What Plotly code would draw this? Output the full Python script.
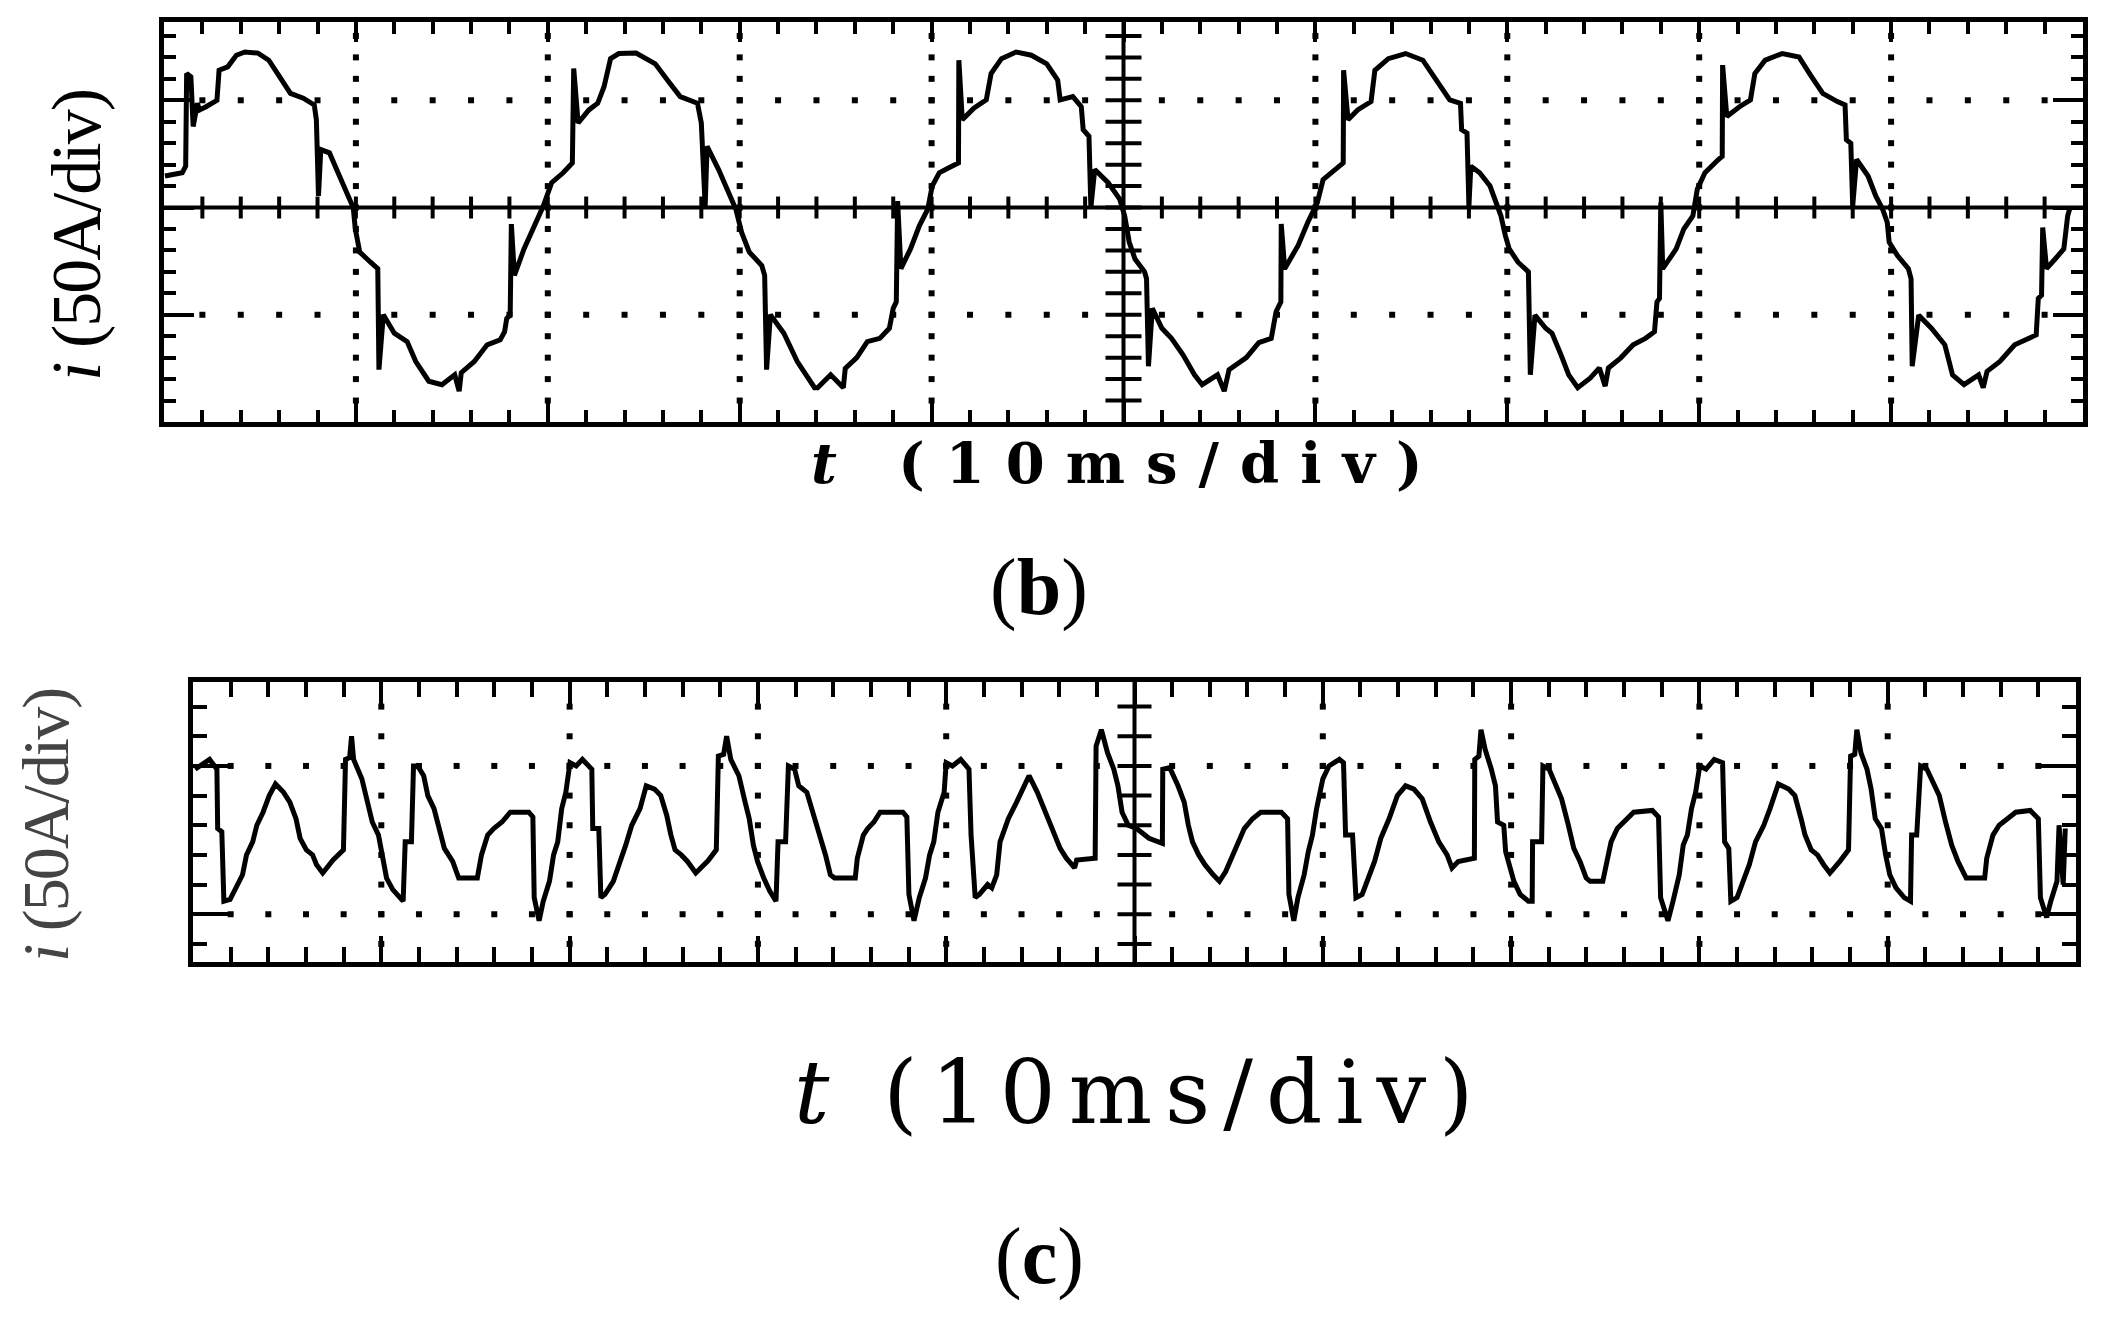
import numpy as np
import plotly.graph_objects as go

W, H = 2105, 1317
OFF = 8  # the page body margin moves the figure by 8 px

# Panel (b): inverter output current, t in ms (10 ms/div), i in A (50 A/div)
B_T = [
    0.05, 0.95, 1.13, 1.18, 1.40, 1.52, 1.74, 1.85, 2.19, 2.76,
    2.87, 3.32, 3.77, 4.22, 4.90, 5.46, 5.91, 6.59, 7.26, 7.83,
    7.94, 8.05, 8.17, 8.62, 9.07, 9.52, 9.86, 9.97, 10.20, 10.76,
    11.14, 11.20, 11.43, 12.00, 12.67, 13.12, 13.80, 14.48, 15.15, 15.38,
    15.49, 16.17, 16.84, 17.52, 17.75, 17.86, 18.04, 18.10, 18.26, 18.76,
    19.32, 19.77, 20.20, 20.80, 21.28, 21.35, 21.58, 22.14, 22.60, 22.93,
    23.27, 23.70, 24.60, 25.60, 26.30, 26.90, 27.80, 28.00, 28.20, 28.30,
    28.90, 29.35, 29.80, 30.10, 30.50, 31.15, 31.30, 31.40, 31.60, 32.30,
    33.00, 33.90, 34.06, 34.74, 35.40, 35.50, 36.10, 36.65, 37.30, 37.80,
    38.00, 38.16, 38.23, 38.40, 38.90, 39.36, 39.80, 40.03, 40.40, 40.90,
    41.40, 41.42, 41.60, 42.20, 42.85, 43.10, 43.64, 44.40, 45.20, 46.00,
    46.57, 46.70, 47.36, 47.80, 47.90, 48.20, 48.30, 48.50, 49.20, 49.80,
    50.06, 50.30, 50.60, 51.10, 51.20, 51.30, 51.50, 52.00, 52.50, 53.10,
    53.70, 54.10, 54.90, 55.25, 55.50, 56.40, 57.05, 57.70, 57.95, 58.20,
    58.22, 58.40, 59.10, 59.60, 60.10, 60.40, 61.00, 61.45, 61.47, 61.70,
    62.20, 62.90, 63.10, 63.80, 64.70, 65.60, 66.30, 67.00, 67.56, 67.62,
    67.90, 68.00, 68.10, 68.56, 69.10, 69.44, 69.67, 69.90, 70.10, 70.56,
    71.10, 71.20, 71.44, 72.00, 72.33, 72.80, 73.20, 73.67, 74.33, 74.80,
    75.10, 75.27, 75.90, 76.56, 77.20, 77.67, 77.80, 77.93, 78.00, 78.10,
    78.80, 79.20, 79.67, 79.90, 80.30, 81.00, 81.20, 81.22, 81.44, 82.10,
    82.67, 82.90, 83.44, 84.33, 85.20, 85.80, 86.44, 87.20, 87.60, 87.67,
    87.90, 88.00, 88.20, 88.80, 89.20, 89.56, 89.80, 89.90, 90.33, 90.90,
    91.04, 91.10, 91.44, 92.10, 92.80, 93.20, 93.80, 94.56, 94.80, 95.00,
    95.67, 96.44, 97.00, 97.56, 97.67, 97.84, 97.90, 98.10, 98.56, 99.00,
    99.20, 99.30,
]
B_I = [
    14.7, 16.2, 19.3, 62.5, 61.0, 37.8, 48.6, 45.5, 47.0, 50.0,
    64.0, 65.6, 71.0, 72.5, 72.0, 68.7, 62.5, 53.2, 51.0, 47.8,
    40.9, 5.4, 27.0, 25.5, 16.2, 7.7, 0.0, -10.0, -20.8, -25.5,
    -28.5, -75.6, -50.0, -58.6, -62.5, -71.8, -81.0, -82.6, -78.0, -85.6,
    -77.0, -71.8, -64.0, -61.7, -57.9, -51.7, -50.2, -7.7, -31.6, -19.3,
    -8.5, 0.8, 11.6, 16.2, 20.8, 64.8, 39.4, 45.5, 48.6, 56.3,
    69.4, 71.8, 72.0, 67.0, 58.6, 51.7, 48.6, 39.4, 0.8, 28.5,
    17.7, 8.5, -0.8, -11.6, -20.8, -27.0, -31.6, -75.6, -50.0, -58.6,
    -71.8, -84.0, -84.0, -78.0, -84.0, -75.0, -70.0, -62.5, -61.0, -56.3,
    -47.0, -44.0, 3.0, -28.5, -19.3, -8.5, -0.8, 10.0, 16.2, 18.5,
    20.8, 68.7, 40.9, 46.3, 50.2, 62.5, 69.4, 72.5, 71.0, 67.0,
    59.4, 50.2, 51.7, 47.0, 36.3, 33.2, 0.0, 17.7, 11.6, 3.9,
    -3.9, -16.2, -24.0, -30.0, -33.2, -74.0, -47.0, -56.3, -61.0, -68.7,
    -78.0, -82.6, -78.0, -85.6, -75.6, -70.0, -63.0, -61.0, -48.6, -44.0,
    -7.7, -28.5, -17.7, -7.0, 2.3, 13.0, 17.7, 20.8, 64.0, 40.9,
    45.5, 49.4, 64.0, 69.4, 71.8, 68.7, 59.4, 50.2, 48.6, 36.3,
    34.7, 0.8, 19.3, 16.2, 10.0, 0.8, -3.9, -13.1, -19.3, -25.5,
    -30.0, -78.0, -50.2, -56.3, -58.6, -68.7, -78.0, -84.0, -79.5, -74.8,
    -83.3, -74.8, -70.2, -64.0, -61.0, -57.9, -44.0, -42.4, 2.3, -28.5,
    -19.3, -10.0, -3.9, 8.5, 16.2, 22.4, 23.9, 66.4, 42.4, 47.0,
    50.2, 62.5, 68.7, 71.8, 70.2, 61.7, 53.2, 49.4, 47.8, 31.6,
    30.0, 0.8, 22.4, 14.7, 5.4, -0.8, -7.0, -16.2, -22.4, -28.5,
    -33.2, -74.0, -50.2, -56.3, -64.0, -78.0, -82.6, -78.0, -84.0, -76.4,
    -71.8, -64.0, -61.7, -59.4, -42.4, -40.9, -9.3, -28.5, -23.9, -19.3,
    -3.9, -0.8,
]

# Panel (c): distorted current, same scales
C_T = [
    0.11, 0.88, 1.27, 1.31, 1.53, 1.64, 1.97, 2.30, 2.63, 2.84,
    3.17, 3.39, 3.72, 4.05, 4.38, 4.81, 5.14, 5.47, 5.69, 6.02,
    6.35, 6.56, 6.89, 7.44, 7.99, 8.10, 8.32, 8.42, 8.53, 8.97,
    9.30, 9.52, 9.85, 10.07, 10.28, 10.61, 11.16, 11.27, 11.60, 11.71,
    11.93, 12.25, 12.47, 12.80, 13.02, 13.35, 13.79, 14.11, 15.10, 15.32,
    15.65, 15.97, 16.41, 16.85, 17.83, 18.05, 18.12, 18.38, 18.60, 18.93,
    19.15, 19.37, 19.58, 19.80, 20.02, 20.35, 20.68, 21.18, 21.23, 21.55,
    21.66, 21.88, 22.32, 22.65, 22.98, 23.30, 23.74, 24.07, 24.51, 24.84,
    25.16, 25.38, 25.60, 25.93, 26.26, 26.70, 27.35, 27.79, 27.90, 28.18,
    28.34, 28.56, 28.99, 29.32, 29.54, 29.76, 29.98, 30.31, 30.63, 30.96,
    31.07, 31.47, 31.62, 31.95, 32.17, 32.60, 32.93, 33.26, 33.59, 33.85,
    34.07, 35.17, 35.28, 35.60, 35.83, 36.16, 36.49, 37.70, 37.91, 38.02,
    38.29, 38.57, 38.90, 39.12, 39.34, 39.56, 39.89, 40.00, 40.33, 40.77,
    41.21, 41.32, 41.54, 41.76, 42.20, 42.42, 42.68, 42.86, 43.30, 43.74,
    44.07, 44.40, 44.84, 45.28, 45.72, 46.05, 46.38, 46.82, 46.93, 47.91,
    47.96, 48.24, 48.57, 48.90, 49.12, 49.34, 49.67, 50.11, 50.77, 51.48,
    51.50, 51.87, 52.31, 52.64, 52.86, 53.08, 53.41, 53.74, 54.18, 54.51,
    54.84, 55.17, 55.50, 55.83, 56.27, 56.70, 57.80, 58.13, 58.20, 58.46,
    58.68, 59.01, 59.23, 59.45, 59.67, 60.00, 60.33, 60.88, 61.10, 61.21,
    61.58, 61.76, 62.09, 62.42, 62.75, 63.08, 63.52, 63.96, 64.40, 64.84,
    65.28, 65.72, 66.16, 66.60, 66.86, 67.19, 67.85, 68.05, 68.07, 68.29,
    68.40, 68.62, 68.95, 69.17, 69.28, 69.61, 69.71, 69.93, 70.15, 70.48,
    70.92, 71.12, 71.14, 71.62, 71.69, 72.02, 72.35, 72.68, 73.00, 73.33,
    73.66, 73.99, 74.20, 74.87, 75.09, 75.31, 75.64, 76.07, 76.51, 77.50,
    77.83, 77.94, 78.33, 78.60, 78.93, 79.14, 79.36, 79.58, 79.80, 80.02,
    80.35, 80.79, 81.23, 81.34, 81.56, 81.67, 82.00, 82.32, 82.65, 82.98,
    83.42, 83.75, 84.19, 84.74, 85.07, 85.40, 85.61, 85.94, 86.27, 86.60,
    86.93, 87.48, 87.92, 88.03, 88.25, 88.36, 88.58, 88.90, 89.12, 89.34,
    89.67, 89.89, 90.11, 90.44, 90.88, 91.21, 91.27, 91.54, 91.75, 92.08,
    92.41, 92.74, 93.07, 93.40, 93.73, 94.17, 95.15, 95.26, 95.59, 95.92,
    96.36, 96.80, 97.57, 98.00, 98.11, 98.44, 98.66, 98.99, 99.10, 99.32,
    99.43,
]
C_I = [
    48.9, 52.2, 48.9, 28.9, 27.8, 4.4, 5.0, 8.9, 13.3, 20.0,
    24.4, 30.0, 34.4, 40.0, 43.9, 41.1, 37.8, 32.2, 25.6, 21.7,
    20.0, 16.7, 13.9, 18.3, 21.7, 52.2, 52.8, 60.0, 52.2, 45.6,
    37.8, 31.1, 26.7, 20.0, 12.2, 8.3, 4.4, 24.4, 24.4, 50.0,
    50.0, 46.7, 40.0, 35.6, 30.0, 22.2, 17.8, 12.2, 12.2, 20.0,
    26.7, 28.9, 31.1, 34.4, 34.4, 32.8, 5.6, -2.2, 4.4, 11.1,
    20.0, 24.4, 35.6, 41.1, 51.1, 50.0, 52.2, 48.9, 28.9, 28.9,
    5.6, 6.7, 11.1, 16.7, 23.3, 30.0, 35.6, 43.3, 42.2, 40.0,
    33.3, 26.7, 21.7, 20.0, 17.8, 13.9, 18.0, 21.7, 53.3, 53.9,
    60.0, 52.2, 46.7, 37.8, 32.2, 23.3, 17.8, 12.2, 7.8, 4.4,
    24.4, 24.4, 50.0, 48.9, 43.3, 41.1, 34.4, 26.7, 20.0, 13.3,
    12.2, 12.2, 18.9, 26.7, 28.9, 31.1, 34.4, 34.4, 32.8, 6.7,
    -2.2, 5.6, 12.2, 20.0, 24.4, 34.4, 41.1, 51.1, 50.0, 52.2,
    48.9, 26.7, 5.6, 6.7, 10.0, 8.9, 13.3, 24.4, 32.2, 37.8,
    42.2, 46.7, 41.1, 34.4, 26.7, 22.2, 18.9, 15.6, 18.3, 18.9,
    56.7, 62.2, 54.4, 48.9, 43.3, 34.4, 30.0, 28.9, 25.6, 23.9,
    48.9, 49.4, 43.3, 37.8, 30.0, 24.4, 20.0, 16.7, 13.3, 11.1,
    14.4, 18.9, 24.4, 28.9, 32.2, 34.4, 34.4, 32.2, 6.7, -2.2,
    5.6, 13.3, 21.1, 26.7, 35.6, 45.6, 50.0, 52.2, 51.1, 26.7,
    26.7, 5.6, 6.7, 12.2, 17.8, 25.6, 32.2, 40.0, 43.3, 42.2,
    38.9, 31.1, 24.4, 20.0, 15.6, 17.8, 18.9, 18.9, 52.2, 53.3,
    62.2, 55.6, 48.9, 43.3, 31.1, 30.0, 21.1, 15.6, 11.1, 6.7,
    4.4, 4.4, 24.4, 24.4, 50.0, 48.9, 44.4, 38.9, 31.1, 22.2,
    17.8, 12.2, 11.1, 11.1, 17.8, 24.4, 28.9, 31.7, 34.4, 35.0,
    32.8, 5.6, -2.2, 4.4, 13.3, 23.3, 26.7, 35.6, 41.1, 50.0,
    48.9, 52.2, 51.1, 24.4, 22.2, 4.4, 5.6, 11.1, 16.7, 24.4,
    30.0, 35.6, 43.9, 42.2, 40.0, 32.2, 26.7, 21.7, 20.0, 16.7,
    13.9, 18.0, 21.7, 53.3, 53.9, 62.2, 54.4, 48.9, 42.2, 32.2,
    28.9, 20.0, 13.3, 8.9, 5.6, 4.4, 26.7, 26.7, 50.0, 48.9,
    44.4, 40.0, 31.1, 23.3, 17.8, 12.2, 12.2, 18.9, 26.7, 30.0,
    32.2, 34.4, 35.0, 32.2, 5.6, -1.1, 4.4, 11.1, 30.0, 10.0,
    28.9,
]

assert len(B_T) == len(B_I) and len(C_T) == len(C_I)

T_RANGE = [0, 100]
B_I_RANGE = [-100, 86.5]
C_I_RANGE = [-16.1, 78.3]
DIV_T = [10, 20, 30, 40, 60, 70, 80, 90]
B_DOT_ROWS = [-50, 50]
C_DOT_ROWS = [0, 50]

# plot areas in screen pixels (left, right, top, bottom)
B_BOX = (164, 2083, 22, 422)
C_BOX = (193, 2076, 682, 962)


def fx(s):
    return (s - OFF) / W


def fy(s):
    return 1 - (s - OFF) / H


def scope_axis(rng, box, horizontal, anchor, dtick, mdtick, major_len, minor_len):
    domain = [fx(box[0]), fx(box[1])] if horizontal else [fy(box[3]), fy(box[2])]
    return dict(
        range=rng, domain=domain, anchor=anchor, fixedrange=True,
        showline=True, linewidth=5, linecolor="black", mirror="ticks",
        ticks="inside", ticklen=major_len, tickwidth=4, tickcolor="black",
        tick0=0, dtick=dtick, showticklabels=False, showgrid=False, zeroline=False,
        minor=dict(ticks="inside", ticklen=minor_len, tickwidth=4, tickcolor="black",
                   tick0=0, dtick=mdtick, showgrid=False),
    )


def dots(cols, col_y, rows, row_x):
    xs, ys = [], []
    for c in cols:
        for y in col_y:
            xs.append(float(c))
            ys.append(float(y))
    for r in rows:
        for x in row_x:
            xs.append(float(x))
            ys.append(float(r))
    return xs, ys


def per_px(rng, box, horizontal):
    span = (box[1] - box[0]) if horizontal else (box[3] - box[2])
    return (rng[1] - rng[0]) / span


def centre_ticks(i_pos, t_at, t_half):
    """Graticule ticks crossing the vertical centre line, as one broken line."""
    xs, ys = [], []
    for i in i_pos:
        xs += [t_at - t_half, t_at + t_half, None]
        ys += [float(i), float(i), None]
    return xs, ys


fig = go.Figure()
dot_style = dict(symbol="square", size=6, color="black", line=dict(width=0))
tick_line = dict(color="black", width=4)
minor_t = np.arange(2, 99, 2)
minor_t = minor_t[minor_t != 50]

# --- panel (b)
bx, by = dots(DIV_T, np.arange(-90, 81, 10), B_DOT_ROWS, minor_t)
fig.add_trace(go.Scatter(x=bx, y=by, mode="markers", marker=dot_style,
                         xaxis="x", yaxis="y", hoverinfo="skip"))
fig.add_trace(go.Scatter(x=B_T, y=B_I, mode="lines", line=dict(color="black", width=5),
                         xaxis="x", yaxis="y"))
tx, ty = centre_ticks(np.arange(-90, 81, 10), 50.0, 18 * per_px(T_RANGE, B_BOX, True))
fig.add_trace(go.Scatter(x=tx, y=ty, mode="lines", line=tick_line,
                         xaxis="x", yaxis="y", hoverinfo="skip"))

# --- panel (c)
cx, cy = dots(DIV_T, np.arange(-10, 71, 10), C_DOT_ROWS, minor_t)
fig.add_trace(go.Scatter(x=cx, y=cy, mode="markers", marker=dot_style,
                         xaxis="x2", yaxis="y2", hoverinfo="skip"))
fig.add_trace(go.Scatter(x=C_T, y=C_I, mode="lines", line=dict(color="black", width=5),
                         xaxis="x2", yaxis="y2"))
tx, ty = centre_ticks(np.arange(-10, 71, 10), 50.0, 17 * per_px(T_RANGE, C_BOX, True))
fig.add_trace(go.Scatter(x=tx, y=ty, mode="lines", line=tick_line,
                         xaxis="x2", yaxis="y2", hoverinfo="skip"))

# centre graticule lines
for xr, yr in (("x", "y domain"), ("x2", "y2 domain")):
    fig.add_shape(type="line", xref=xr, yref=yr, x0=50, x1=50, y0=0, y1=1,
                  line=dict(color="black", width=4), layer="below")
fig.add_shape(type="line", xref="x domain", yref="y", x0=0, x1=1, y0=0, y1=0,
              line=dict(color="black", width=4), layer="below")

# ticks crossing the horizontal centre line of panel (b), as small line shapes
half_i = 11 * per_px(B_I_RANGE, B_BOX, False)
for t in minor_t:
    fig.add_shape(type="line", xref="x", yref="y", x0=float(t), x1=float(t),
                  y0=-half_i, y1=half_i, line=dict(color="black", width=4), layer="above")

serif = "Liberation Serif, Times New Roman, serif"
dserif = "DejaVu Serif, serif"
notes = [
    # text, x px, y px, font, angle
    ('<span style="letter-spacing:-2px"><i>i</i> (50A/div)</span>', 76, 236,
     dict(family=serif, size=70, color="black"), -90),
    ('<span style="letter-spacing:-2px"><i>i</i> (50A/div)</span>', 46, 826,
     dict(family=serif, size=66, color="#444444"), -90),
    ('<span style="letter-spacing:21px"><i>t</i> (10ms/div)</span>', 1127, 463,
     dict(family=dserif, size=56, color="black", weight="bold"), 0),
    ('<span style="letter-spacing:13px"><i>t</i> (10ms/div)</span>', 1140, 1092,
     dict(family=dserif, size=88, color="black"), 0),
    ("(<b>b</b>)", 1039, 588, dict(family=serif, size=80, color="black"), 0),
    ("(<b>c</b>)", 1039, 1256, dict(family=serif, size=80, color="black"), 0),
]
for text, px, py, font, ang in notes:
    fig.add_annotation(text=text, x=fx(px), y=fy(py), xref="paper", yref="paper",
                       showarrow=False, xanchor="center", yanchor="middle",
                       font=font, textangle=ang)

fig.update_layout(
    width=W, height=H, margin=dict(l=0, r=0, t=0, b=0),
    paper_bgcolor="white", plot_bgcolor="white", showlegend=False,
    xaxis=scope_axis(T_RANGE, B_BOX, True, "y", 10, 2, 20, 12),
    yaxis=scope_axis(B_I_RANGE, B_BOX, False, "x", 50, 10, 30, 12),
    xaxis2=scope_axis(T_RANGE, C_BOX, True, "y2", 10, 2, 26, 15),
    yaxis2=scope_axis(C_I_RANGE, C_BOX, False, "x2", 50, 10, 36, 14),
)

fig.write_html("out.html")
